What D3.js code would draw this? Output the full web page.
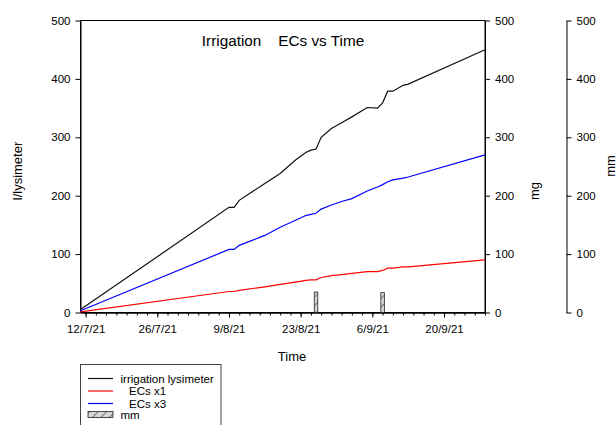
<!DOCTYPE html>
<html>
<head>
<meta charset="utf-8">
<script src="https://cdn.jsdelivr.net/npm/d3@7"></script>
<style>
  body { margin: 0; background: #fff; }
  svg { font-family: "Liberation Sans", Arial, sans-serif; }
  .axis path, .axis line { stroke: #000; }
  .axis text { font-size: 11.5px; fill: #000; font-family: "Liberation Sans", Arial, sans-serif; }
</style>
</head>
<body>
<svg id="chart" width="616" height="425"></svg>
<script>
// data
const dates = ["11/7/21", "9/8/21", "10/8/21", "11/8/21", "16/8/21", "19/8/21", "22/8/21",
  "24/8/21", "25/8/21", "26/8/21", "27/8/21", "29/8/21", "31/8/21", "2/9/21", "5/9/21", "7/9/21", "8/9/21",
  "9/9/21", "10/9/21", "12/9/21", "13/9/21", "28/9/21"];
const irrigation = [5, 180, 180, 192, 221, 238, 261, 274, 278, 280, 300, 315, 325, 335, 351, 350, 359, 379, 379, 389, 391, 450];
const ecsX3 = [3, 108, 108, 115, 132, 146, 158, 166, 168, 170, 177, 184, 190, 195, 208, 215, 219, 224, 227, 230, 232, 270];
const ecsX1 = [1, 36, 36, 38, 44, 48, 52, 55, 56, 56, 60, 63, 65, 67, 70, 70, 72, 76, 76, 78, 78, 90];
const rainDates = ["26/8/21", "8/9/21"];
const rainMm = [35, 34];
const tickLabels = ["12/7/21", "26/7/21", "9/8/21", "23/8/21", "6/9/21", "20/9/21"];

const parse = d3.timeParse("%-d/%-m/%y");
const fmt = d3.timeFormat("%-d/%-m/%y");

const mLeft = 80.5, mRight = 485, mTop = 20.5, mBottom = 312.5;

const svg = d3.select("#chart");

const x = d3.scaleTime()
  .domain([parse("11/7/21"), parse("28/9/21")])
  .range([mLeft, mRight]);
const y = d3.scaleLinear().domain([0, 500]).range([mBottom, mTop]);
const yMg = d3.scaleLinear().domain([0, 500]).range([mBottom, mTop]);
const yMm = d3.scaleLinear().domain([0, 500]).range([mBottom, mTop]);

// hatch pattern for the mm bars
const defs = svg.append("defs");
const pat = defs.append("pattern")
  .attr("id", "hatch")
  .attr("patternUnits", "userSpaceOnUse")
  .attr("width", 6).attr("height", 6)
  .attr("patternTransform", "rotate(45)");
pat.append("rect").attr("width", 6).attr("height", 6).attr("fill", "#d8d8d8");
pat.append("line").attr("x1", 0).attr("y1", 0).attr("x2", 0).attr("y2", 6)
  .attr("stroke", "#333").attr("stroke-width", 1.2);

// frame
svg.append("rect")
  .attr("x", mLeft).attr("y", mTop)
  .attr("width", mRight - mLeft).attr("height", mBottom - mTop)
  .attr("fill", "none").attr("stroke", "#000");

// x axis: minor ticks every 2 days, labelled every 14
const minor = d3.timeDay.range(parse("12/7/21"), d3.timeDay.offset(parse("28/9/21"), 1), 2);
const major = tickLabels.map(parse);

svg.append("g")
  .attr("class", "axis")
  .attr("transform", `translate(0,${mBottom})`)
  .call(d3.axisBottom(x).tickValues(minor).tickSize(3).tickSizeOuter(0).tickFormat(""));

svg.append("g")
  .attr("class", "axis")
  .attr("transform", `translate(0,${mBottom})`)
  .call(d3.axisBottom(x).tickValues(major).tickSize(5).tickSizeOuter(0).tickPadding(7).tickFormat(fmt));

// y axes
svg.append("g")
  .attr("class", "axis")
  .attr("transform", `translate(${mLeft},0)`)
  .call(d3.axisLeft(y).tickValues([0, 100, 200, 300, 400, 500]).tickSize(5).tickSizeOuter(0).tickPadding(5));

svg.append("g")
  .attr("class", "axis")
  .attr("transform", `translate(${mRight},0)`)
  .call(d3.axisRight(yMg).tickValues([0, 100, 200, 300, 400, 500]).tickSize(5).tickSizeOuter(0).tickPadding(5));

svg.append("g")
  .attr("class", "axis")
  .attr("transform", `translate(566.5,0)`)
  .call(d3.axisRight(yMm).tickValues([0, 100, 200, 300, 400, 500]).tickSize(5).tickSizeOuter(0).tickPadding(5));

// bars (mm)
const barW = 3.5;
svg.append("g").selectAll("rect")
  .data(rainDates.map((d, i) => ({ date: parse(d), v: rainMm[i] })))
  .join("rect")
    .attr("x", d => x(d.date) - barW / 2)
    .attr("y", d => yMm(d.v))
    .attr("width", barW)
    .attr("height", d => yMm(0) - yMm(d.v))
    .attr("fill", "url(#hatch)")
    .attr("stroke", "#222")
    .attr("stroke-width", 0.8);

// lines
const series = [
  { name: "irrigation lysimeter", values: irrigation, scale: y, color: "#111" },
  { name: "ECs x1", values: ecsX1, scale: yMg, color: "#ff0000" },
  { name: "ECs x3", values: ecsX3, scale: yMg, color: "#0000ff" }
];

series.forEach(s => {
  const line = d3.line()
    .x((d, i) => x(parse(dates[i])))
    .y(d => s.scale(d));
  svg.append("path")
    .datum(s.values)
    .attr("fill", "none")
    .attr("stroke", s.color)
    .attr("stroke-width", 1.2)
    .attr("d", line);
});

// titles
svg.append("text")
  .attr("x", 283).attr("y", 46)
  .attr("text-anchor", "middle")
  .attr("font-size", 15.3)
  .attr("xml:space", "preserve")
  .text("Irrigation    ECs vs Time");

svg.append("text")
  .attr("x", 292).attr("y", 361)
  .attr("text-anchor", "middle")
  .attr("font-size", 13)
  .text("Time");

svg.append("text")
  .attr("transform", "translate(22,171) rotate(-90)")
  .attr("text-anchor", "middle")
  .attr("font-size", 13)
  .text("l/lysimeter");

svg.append("text")
  .attr("transform", "translate(539,191) rotate(-90)")
  .attr("text-anchor", "middle")
  .attr("font-size", 13)
  .text("mg");

svg.append("text")
  .attr("transform", "translate(614.5,166) rotate(-90)")
  .attr("text-anchor", "middle")
  .attr("font-size", 13)
  .text("mm");

// legend
const legend = svg.append("g").attr("font-size", 11.5);
legend.append("rect")
  .attr("x", 80.5).attr("y", 364.5)
  .attr("width", 140.5).attr("height", 80)
  .attr("fill", "none").attr("stroke", "#444");

const legendRows = [
  { label: "irrigation lysimeter", color: "#111", tx: 120.5 },
  { label: "ECs x1", color: "#ff0000", tx: 129 },
  { label: "ECs x3", color: "#0000ff", tx: 129 }
];
legendRows.forEach((r, i) => {
  const yy = 378.5 + i * 12.5;
  legend.append("line")
    .attr("x1", 88).attr("x2", 113).attr("y1", yy).attr("y2", yy)
    .attr("stroke", r.color).attr("stroke-width", 1.2);
  legend.append("text")
    .attr("x", r.tx).attr("y", yy + 4)
    .text(r.label);
});
legend.append("rect")
  .attr("x", 88).attr("y", 411.5)
  .attr("width", 25).attr("height", 6)
  .attr("fill", "url(#hatch)").attr("stroke", "#222").attr("stroke-width", 0.8);
legend.append("text")
  .attr("x", 120.5).attr("y", 418.5)
  .text("mm");
</script>
</body>
</html>
